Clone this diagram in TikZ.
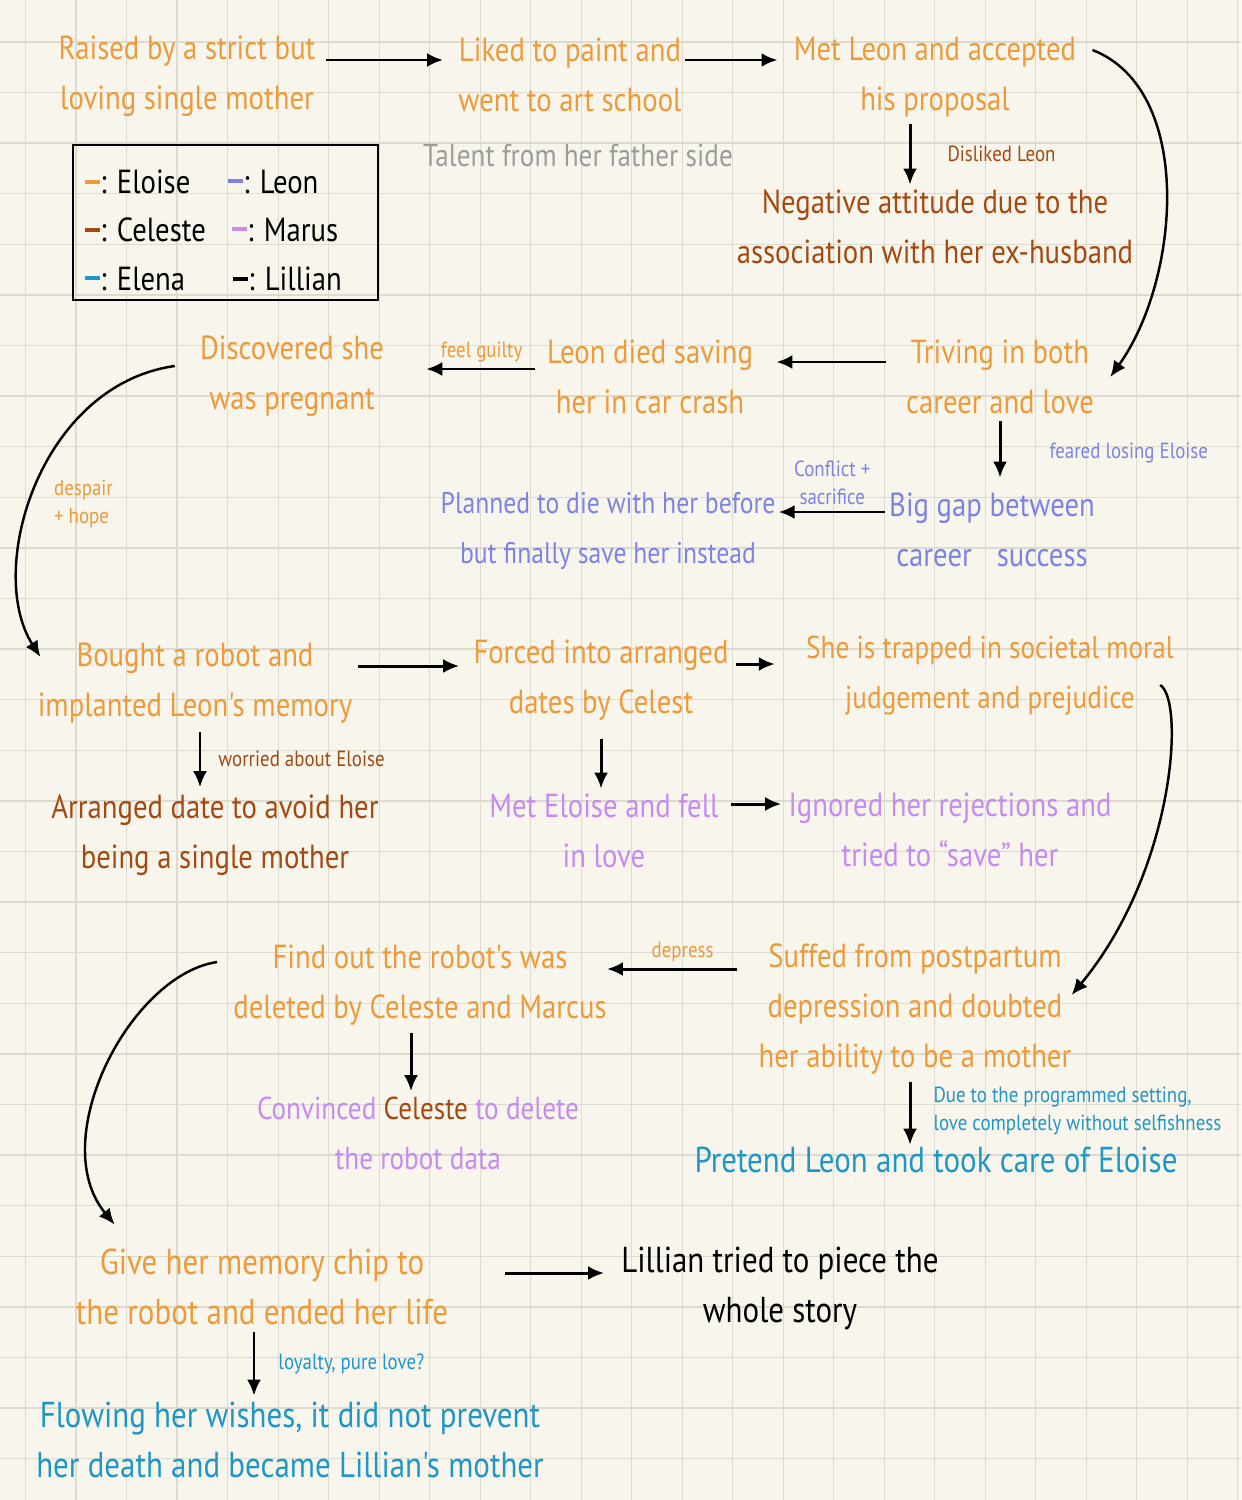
\documentclass[tikz,border=0pt]{standalone}
\usepackage{fontspec}
\usepackage{xcolor}
\usetikzlibrary{arrows.meta}
\newfontfamily\handfont[FakeStretch=0.86]{PT Sans}
\definecolor{paper}{HTML}{F8F6EC}
\definecolor{gridc}{HTML}{DDDBD0}
\definecolor{eloisec}{HTML}{EC9A3A}
\definecolor{celestec}{HTML}{A34A12}
\definecolor{leonc}{HTML}{7C83E3}
\definecolor{marcusc}{HTML}{C58BF0}
\definecolor{elenac}{HTML}{1E96C6}
\definecolor{talentc}{HTML}{9C9C9C}

\begin{document}
\begin{tikzpicture}[x=0.02cm,y=0.02cm]
		\tikzstyle{every node}+=[inner sep=0pt, align=center, font=\handfont\fontsize{19}{28.5}\selectfont]
		\tikzstyle{eloise}=[text=eloisec]
		\tikzstyle{celeste}=[text=celestec]
		\tikzstyle{leon}=[text=leonc]
		\tikzstyle{marcus}=[text=marcusc]
		\tikzstyle{elena}=[text=elenac]
		\tikzstyle{lillian}=[text=black]
		\tikzstyle{big}=[font=\handfont\fontsize{20.5}{28.5}\selectfont]
		\tikzstyle{slimtext}=[font=\handfont\fontsize{18}{28.5}\selectfont]
		\tikzstyle{narrowtext}=[font=\handfont\fontsize{17}{28.5}\selectfont]
		\tikzstyle{note}=[font=\handfont\fontsize{12.5}{16}\selectfont]
		\tikzstyle{arr}=[black, line width=1.7pt, -{Latex[length=0.32cm,width=0.28cm]}]
		\tikzstyle{curvearr}=[black, line width=1.4pt, -{Latex[length=0.32cm,width=0.28cm]}]
		\fill [paper] (0,0) rectangle (1241,-1500);
		\useasboundingbox (0,0) rectangle (1241,-1500);
		\foreach \i in {0,...,24}
			\draw [gridc, line width=0.8pt] ({25.7+50.5*\i},0) -- ({25.7+50.5*\i},-1500);
		\foreach \i in {0,...,28}
			\draw [gridc, line width=0.8pt] (0,{-41.9-50.6*\i}) -- (1241,{-41.9-50.6*\i});
		\draw (187,-76) node[eloise] (raised) {Raised by a strict but\\loving single mother};
		\draw (570,-75) node[eloise] (liked) {Liked to paint and\\went to art school};
		\draw (935,-77) node[eloise] (met) {Met Leon and accepted\\his proposal};
		\draw (578,-155) node[text=talentc, slimtext] (talent) {Talent from her father side};
		\draw (225.5,-222.5) node[draw, line width=1.6pt, minimum width=6.1cm, minimum height=3.1cm] (legend) {};
		\draw (85,-182) node[anchor=west] (keyeloise) {\textcolor{eloisec}{\rule[0.3em]{0.45em}{0.12em}}: Eloise};
		\draw (228,-182) node[anchor=west] (keyleon) {\textcolor{leonc}{\rule[0.3em]{0.45em}{0.12em}}: Leon};
		\draw (85,-230) node[anchor=west] (keyceleste) {\textcolor{celestec}{\rule[0.3em]{0.45em}{0.12em}}: Celeste};
		\draw (232,-230) node[anchor=west] (keymarcus) {\textcolor{marcusc}{\rule[0.3em]{0.45em}{0.12em}}: Marus};
		\draw (85,-279) node[anchor=west] (keyelena) {\textcolor{elenac}{\rule[0.3em]{0.45em}{0.12em}}: Elena};
		\draw (233,-279) node[anchor=west] (keylillian) {\textcolor{black}{\rule[0.3em]{0.45em}{0.12em}}: Lillian};
		\draw (935,-227) node[celeste] (negative) {Negative attitude due to the\\association with her ex-husband};
		\draw (1000,-377) node[eloise] (thriving) {Triving in both\\career and love};
		\draw (650,-377) node[eloise] (crash) {Leon died saving\\her in car crash};
		\draw (292,-376) node[eloise] (pregnant) {Discovered she\\was pregnant};
		\draw (992,-530) node[leon] (gap) {Big gap between\\career\hspace{0.5cm}success};
		\draw (608,-531) node[leon, narrowtext] (planned) {Planned to die with her before\\but finally save her instead};
		\draw (195,-683) node[eloise] (robot) {Bought a robot and\\implanted Leon's memory};
		\draw (601,-680) node[eloise] (forced) {Forced into arranged\\dates by Celest};
		\draw (990,-676) node[eloise, slimtext] (trapped) {She is trapped in societal moral\\judgement and prejudice};
		\draw (215,-835) node[celeste] (arranged) {Arranged date to avoid her\\being a single mother};
		\draw (604,-831) node[marcus] (fell) {Met Eloise and fell\\in love};
		\draw (950,-830) node[marcus] (ignored) {Ignored her rejections and\\tried to “save” her};
		\draw (915,-1009) node[eloise] (postpartum) {Suffed from postpartum\\depression and doubted\\her ability to be a mother};
		\draw (420,-985) node[eloise] (deleted) {Find out the robot's was\\deleted by Celeste and Marcus};
		\draw (418,-1133) node[marcus, slimtext] (convinced) {Convinced \textcolor{celestec}{Celeste} to delete\\the robot data};
		\draw (936,-1160) node[elena, big] (pretend) {Pretend Leon and took care of Eloise};
		\draw (262,-1287) node[eloise, big] (chip) {Give her memory chip to\\the robot and ended her life};
		\draw (780,-1288) node[lillian, big] (piece) {Lillian tried to piece the\\whole story};
		\draw (290,-1440) node[elena, big] (wishes) {Flowing her wishes, it did not prevent\\her death and became Lillian's mother};
		\draw [arr, shorten <=0.2cm, shorten >=0.3cm] ([yshift=0.32cm]raised.east) -- ([yshift=0.32cm]raised.east -| liked.west);
		\draw [arr, shorten <=0.06cm, shorten >=0.32cm] ([yshift=0.3cm]liked.east) -- ([yshift=0.3cm]liked.east -| met.west);
		\draw [arr, shorten <=0.14cm, shorten >=0.1cm] ([xshift=-0.5cm]met.south) -- node[midway, right=0.72cm, celeste, note] (disliked) {Disliked Leon} ([xshift=-0.5cm]met.south |- negative.north);
		\draw [curvearr] ([xshift=0.32cm,yshift=0.54cm]met.east) .. controls (1195,-90) and (1180,-280) .. ([xshift=0.32cm]thriving.east);
		\draw [arr, shorten <=0.4cm, shorten >=0.46cm] ([yshift=0.3cm]thriving.west) -- ([yshift=0.3cm]thriving.west -| crash.east);
		\draw [arr, shorten <=0.24cm, shorten >=0.84cm] ([yshift=0.16cm]crash.west) -- node[pos=0.4, above=3pt, eloise, note] (guilty) {feel guilty} ([yshift=0.16cm]crash.west -| pregnant.east);
		\draw [curvearr] ([xshift=-0.5cm,yshift=0.2cm]pregnant.west) .. controls (40,-385) and (-15,-570) .. node[pos=0.55, right=0.46cm, eloise, note, align=left] (despair) {despair\\+ hope} ([xshift=0.06cm,yshift=0.52cm]robot.west);
		\draw [arr, shorten <=0.14cm, shorten >=0.3cm] (thriving.south) -- node[midway, right=0.96cm, leon, note] (feared) {feared losing Eloise} (thriving.south |- gap.north);
		\draw [arr, shorten <=0.08cm, shorten >=0.06cm] ([yshift=0.36cm]gap.west) -- node[midway, above=3pt, leon, note] (conflict) {Conflict +\\sacrifice} ([yshift=0.36cm]gap.west -| planned.east);
		\draw [arr, shorten <=0.1cm, shorten >=0.28cm] ([yshift=0.34cm]robot.east) -- ([yshift=0.34cm]robot.east -| forced.west);
		\draw [arr, shorten <=0.14cm, shorten >=0.62cm] ([yshift=0.32cm]forced.east) -- ([yshift=0.32cm]forced.east -| trapped.west);
		\draw [arr, shorten <=0.16cm, shorten >=0.14cm] ([xshift=0.1cm]robot.south) -- node[midway, right=0.34cm, celeste, note] (worried) {worried about Eloise} ([xshift=0.1cm]robot.south |- arranged.north);
		\draw [arr, shorten <=0.36cm, shorten >=0.1cm] (forced.south) -- (forced.south |- fell.north);
		\draw [arr, shorten <=0.24cm, shorten >=0.14cm] ([yshift=0.54cm]fell.east) -- ([yshift=0.54cm]fell.east -| ignored.west);
		\draw [curvearr] ([xshift=-0.28cm,yshift=-0.18cm]trapped.east) .. controls (1185,-700) and (1175,-870) .. ([yshift=0.28cm]postpartum.east);
		\draw [arr, shorten <=0.42cm] ([yshift=0.8cm]postpartum.west) -- node[midway, above=3pt, eloise, note] (depress) {depress} ([yshift=0.8cm]postpartum.west -| deleted.east);
		\draw [arr, shorten <=0.14cm, shorten >=0.04cm] ([xshift=-0.1cm]postpartum.south) -- node[midway, right=0.44cm, elena, note, align=left] (setting) {Due to the programmed setting,\\love completely without selfishness} ([xshift=-0.1cm]postpartum.south |- pretend.north);
		\draw [arr, shorten <=0.14cm, shorten >=0.1cm] ([xshift=-0.18cm]deleted.south) -- ([xshift=-0.18cm]deleted.south |- convinced.north);
		\draw [curvearr] ([xshift=-0.32cm,yshift=0.46cm]deleted.west) .. controls (130,-975) and (45,-1140) .. ([xshift=0.78cm,yshift=0.48cm]chip.north west);
		\draw [arr, shorten <=1.14cm, shorten >=0.34cm] ([yshift=0.28cm]chip.east) -- ([yshift=0.28cm]chip.east -| piece.west);
		\draw [arr, shorten <=0.14cm, shorten >=0.12cm] ([xshift=-0.16cm]chip.south) -- node[midway, right=0.46cm, elena, note] (loyalty) {loyalty, pure love?} ([xshift=-0.16cm]chip.south |- wishes.north);
\end{tikzpicture}
\end{document}
